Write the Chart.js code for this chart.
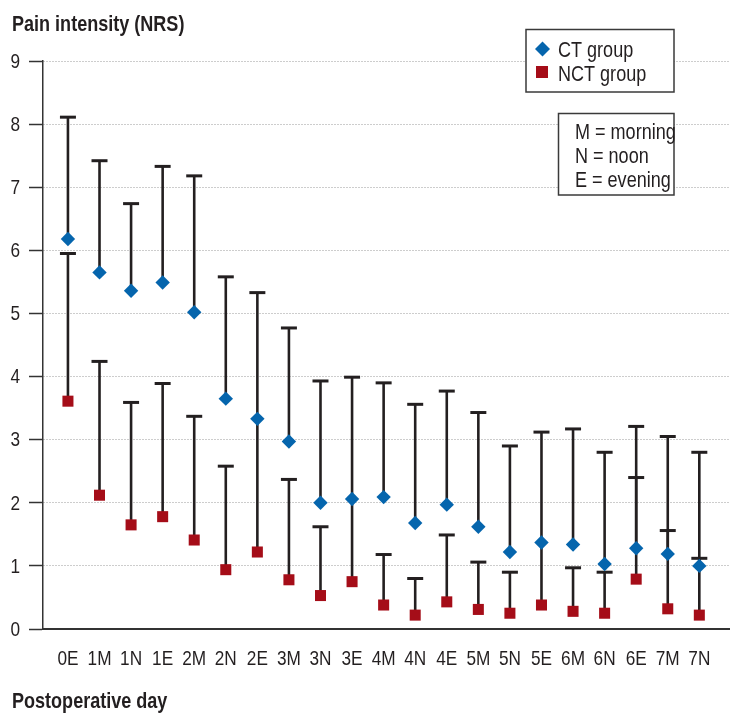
<!DOCTYPE html>
<html>
<head>
<meta charset="utf-8">
<script src="https://cdn.jsdelivr.net/npm/chart.js@4.4.0/dist/chart.umd.min.js"></script>
<style>
  html, body { margin: 0; padding: 0; background: #fff; }
  canvas { display: block; }
</style>
</head>
<body>
<canvas id="painChart" width="740" height="722"></canvas>
<script>
// Postoperative day / time of day
const categories = ["0E", "1M", "1N", "1E", "2M", "2N", "2E", "3M", "3N", "3E", "4M",
                    "4N", "4E", "5M", "5N", "5E", "6M", "6N", "6E", "7M", "7N"];

// CT group: mean and upper end of the error bar
const ctMean  = [6.18, 5.65, 5.36, 5.49, 5.02, 3.65, 3.33, 2.97, 2.00, 2.06, 2.09,
                 1.68, 1.97, 1.62, 1.22, 1.37, 1.34, 1.03, 1.28, 1.19, 1.00];
const ctUpper = [8.11, 7.42, 6.74, 7.33, 7.18, 5.58, 5.33, 4.77, 3.93, 3.99, 3.90,
                 3.56, 3.77, 3.43, 2.90, 3.12, 3.17, 2.80, 3.21, 3.05, 2.80];

// NCT group: mean and upper end of the error bar
const nctMean  = [3.61, 2.12, 1.65, 1.78, 1.41, 0.94, 1.22, 0.78, 0.53, 0.75, 0.38,
                  0.22, 0.43, 0.31, 0.25, 0.38, 0.28, 0.25, 0.79, 0.32, 0.22];
const nctUpper = [5.95, 4.24, 3.59, 3.89, 3.37, 2.58, 3.33, 2.37, 1.62, 2.06, 1.18,
                  0.80, 1.49, 1.06, 0.90, 1.37, 0.97, 0.90, 2.40, 1.56, 1.12];

const yTicks = [0, 1, 2, 3, 4, 5, 6, 7, 8, 9];

const CT_COLOR = "#0565ad";
const NCT_COLOR = "#a50d18";
const INK = "#231f20";
const FONT_FAMILY = "'Liberation Sans', Arial, sans-serif";
const NARROW = 0.82; // squeeze text to look like the condensed face of the original
const CT_RADIUS = 7.2;

// write text squeezed horizontally
function narrowText(ctx, text, x, y, align) {
    ctx.save();
    ctx.translate(x, y);
    ctx.scale(NARROW, 1);
    ctx.textAlign = align || "left";
    ctx.fillText(text, 0, 0);
    ctx.restore();
}

// Draw the upper error bars behind the markers
const errorBarPlugin = {
    id: "errorBars",
    beforeDatasetsDraw(chart) {
        const { ctx, scales: { x, y } } = chart;
        const drawBar = (i, from, to, withCap) => {
            const px = x.getPixelForValue(i);
            const y0 = y.getPixelForValue(from);
            const y1 = y.getPixelForValue(to);
            ctx.lineWidth = 2.6;
            ctx.beginPath();
            ctx.moveTo(px, y0);
            ctx.lineTo(px, y1);
            ctx.stroke();
            if (!withCap) return;
            ctx.lineWidth = 3;
            ctx.beginPath();
            ctx.moveTo(px - 8, y1);
            ctx.lineTo(px + 8, y1);
            ctx.stroke();
        };
        ctx.save();
        ctx.strokeStyle = INK;
        categories.forEach((c, i) => {
            // the NCT cap is hidden when it ends inside the CT diamond
            const gap = Math.abs(y.getPixelForValue(nctUpper[i]) - y.getPixelForValue(ctMean[i]));
            drawBar(i, nctMean[i], nctUpper[i], gap > CT_RADIUS);
            drawBar(i, ctMean[i], ctUpper[i], true);
        });
        ctx.restore();
    }
};

// Tick labels, axis titles and the two boxed keys
const annotationPlugin = {
    id: "annotations",
    afterDraw(chart) {
        const { ctx, scales: { x, y } } = chart;
        ctx.save();
        ctx.fillStyle = INK;

        // tick labels
        ctx.font = "21px " + FONT_FAMILY;
        ctx.textBaseline = "alphabetic";
        categories.forEach((c, i) => {
            narrowText(ctx, c, x.getPixelForValue(i), 665, "center");
        });
        ctx.textBaseline = "middle";
        yTicks.forEach((v) => {
            narrowText(ctx, String(v), 20, y.getPixelForValue(v) + 1, "right");
        });

        // axis titles
        ctx.textBaseline = "alphabetic";
        ctx.font = "bold 22px " + FONT_FAMILY;
        narrowText(ctx, "Pain intensity (NRS)", 12, 31);
        narrowText(ctx, "Postoperative day", 12, 708);

        // legend box
        ctx.lineWidth = 1.5;
        ctx.strokeStyle = "#3a3a3a";
        ctx.fillStyle = "#fff";
        ctx.fillRect(526, 29.5, 148, 62.5);
        ctx.strokeRect(526, 29.5, 148, 62.5);

        ctx.fillStyle = CT_COLOR;
        ctx.beginPath();
        ctx.moveTo(542.5, 41.5);
        ctx.lineTo(550, 49);
        ctx.lineTo(542.5, 56.5);
        ctx.lineTo(535, 49);
        ctx.closePath();
        ctx.fill();
        ctx.fillStyle = NCT_COLOR;
        ctx.fillRect(536, 66, 12, 12);

        ctx.fillStyle = INK;
        ctx.font = "22px " + FONT_FAMILY;
        narrowText(ctx, "CT group", 558, 57);
        narrowText(ctx, "NCT group", 558, 80.5);

        // abbreviation box
        ctx.fillStyle = "#fff";
        ctx.fillRect(558.5, 113.5, 115.5, 81.5);
        ctx.strokeRect(558.5, 113.5, 115.5, 81.5);
        ctx.fillStyle = INK;
        narrowText(ctx, "M = morning", 575, 139);
        narrowText(ctx, "N = noon", 575, 163);
        narrowText(ctx, "E = evening", 575, 186.5);
        ctx.restore();
    }
};

const ctx = document.getElementById("painChart").getContext("2d");
const painChart = new Chart(ctx, {
    type: "scatter",
    data: {
        datasets: [
            {
                label: "CT group",
                data: ctMean.map((v, i) => ({ x: i, y: v })),
                pointStyle: "rectRot",
                pointRadius: CT_RADIUS,
                pointHoverRadius: CT_RADIUS,
                backgroundColor: CT_COLOR,
                borderColor: CT_COLOR,
                borderWidth: 0,
            },
            {
                label: "NCT group",
                data: nctMean.map((v, i) => ({ x: i, y: v })),
                pointStyle: "rect",
                pointRadius: 7.8,
                pointHoverRadius: 7.8,
                backgroundColor: NCT_COLOR,
                borderColor: NCT_COLOR,
                borderWidth: 0,
            },
        ],
    },
    options: {
        responsive: false,
        animation: false,
        devicePixelRatio: 1,
        layout: {
            padding: { top: 61, right: 11, bottom: 0, left: 0 },
        },
        plugins: {
            legend: { display: false },
            tooltip: { enabled: false },
        },
        scales: {
            x: {
                type: "linear",
                min: -0.79,
                max: 20.94,
                afterBuildTicks: (scale) => {
                    scale.ticks = categories.map((c, i) => ({ value: i }));
                },
                afterFit: (scale) => {
                    scale.height = 93;
                },
                ticks: { display: false },
                grid: { display: false, drawTicks: false },
                border: { display: true, color: "#333", width: 2 },
            },
            y: {
                min: 0,
                max: 9,
                afterBuildTicks: (scale) => {
                    scale.ticks = yTicks.map((v) => ({ value: v }));
                },
                afterFit: (scale) => {
                    scale.width = 43;
                },
                ticks: { display: false },
                grid: {
                    color: "#9a9a9a",
                    lineWidth: 1,
                    tickColor: "#333",
                    tickLength: 14,
                    tickWidth: 1.5,
                },
                border: { display: true, color: "#333", width: 1.5, dash: [1, 2] },
            },
        },
    },
    plugins: [errorBarPlugin, annotationPlugin],
});
</script>
</body>
</html>
